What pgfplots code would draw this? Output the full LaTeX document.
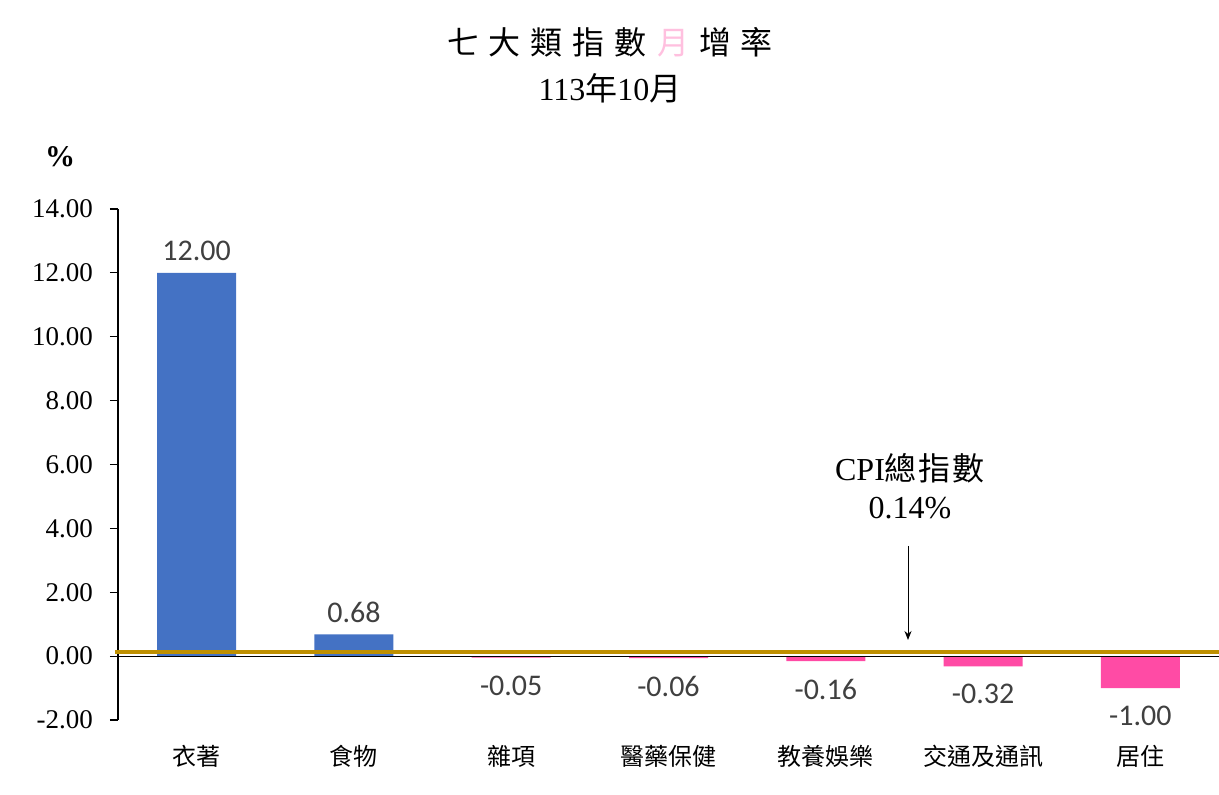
\documentclass[border=0pt]{standalone}
\usepackage{pgfplots}
\pgfplotsset{compat=1.18}
\usetikzlibrary{arrows.meta}
\usepackage{fontspec}
\setmainfont{Liberation Serif}
\newfontfamily\cjk{Noto Sans CJK TC}
\newfontfamily\lbl{Carlito}
\definecolor{barblue}{RGB}{68,114,196}
\definecolor{barpink}{RGB}{255,75,165}
\definecolor{gold}{RGB}{191,144,0}
\definecolor{lblgray}{RGB}{64,64,64}
\pgfkeys{/pgf/number format/assume math mode=true}

\begin{document}
\begin{tikzpicture}
\begin{axis}[
    at={(0,0)}, anchor=south west,
    scale only axis,
    width=550.5pt, height=255.5pt,
    ybar, bar width=39.5pt, bar shift=0pt,
    xmin=-0.5, xmax=6.5,
    ymin=-2, ymax=14,
    axis x line*=bottom,
    x axis line style={draw=none},
    axis y line*=left,
    y axis line style={-, black, line width=0.6pt},
    xtick={0,...,6},
    xticklabels={衣著,食物,雜項,醫藥保健,教養娛樂,交通及通訊,居住},
    xticklabel style={font=\cjk\fontsize{12}{12}\selectfont, yshift=-5pt},
    xtick style={draw=none},
    ytick={-2,0,...,14},
    tick align=outside,
    major tick length=4pt,
    ytick style={black, line width=0.6pt},
    yticklabel style={font=\fontsize{13.5}{13.5}\selectfont, xshift=-5pt,
        /pgf/number format/fixed, /pgf/number format/fixed zerofill,
        /pgf/number format/precision=2},
    nodes near coords,
    every node near coord/.append style={font=\lbl\fontsize{15}{15}\selectfont, color=lblgray,
        /pgf/number format/fixed, /pgf/number format/fixed zerofill,
        /pgf/number format/precision=2},
    clip=false,
]
\addplot[fill=barblue, draw=none, every node near coord/.append style={yshift=2.5pt}]
  coordinates {(0,12.00) (1,0.68)};
\addplot[fill=barpink, draw=none, every node near coord/.append style={yshift=-5.5pt}]
  coordinates {(2,-0.05) (3,-0.06) (4,-0.16) (5,-0.32) (6,-1.00)};
\draw[black, line width=0.6pt] (axis cs:-0.5,0) -- (axis cs:6.5,0);
\draw[gold, line width=2pt] (axis cs:-0.52,0.14) -- (axis cs:6.5,0.14);
\end{axis}
% titles and annotation
\node[font=\cjk\fontsize{16}{16}\selectfont] at (246pt,339pt)
  {七\hspace{5pt}大\hspace{5pt}類\hspace{5pt}指\hspace{5pt}數\hspace{5pt}\textcolor{barpink!35}{月}\hspace{5pt}增\hspace{5pt}率};
\node[font=\fontsize{16}{16}\selectfont] at (246pt,316pt) {113{\cjk 年}10{\cjk 月}};
\node[font=\bfseries\fontsize{15}{15}\selectfont] at (-29pt,281.5pt) {\%};
\node[font=\fontsize{16}{16}\selectfont] at (396pt,126pt) {CPI{\cjk 總\hspace{1pt}指\hspace{1pt}數}};
\node[font=\fontsize{16}{16}\selectfont] at (396pt,106pt) {0.14\%};
\draw[-{Stealth[length=4.5pt,width=3.5pt]}, black, line width=0.5pt] (395pt,87pt) -- (395pt,40pt);
\pgfresetboundingbox
\useasboundingbox (-59pt,-37.5pt) rectangle (550.5pt,360pt);
\end{tikzpicture}
\end{document}
